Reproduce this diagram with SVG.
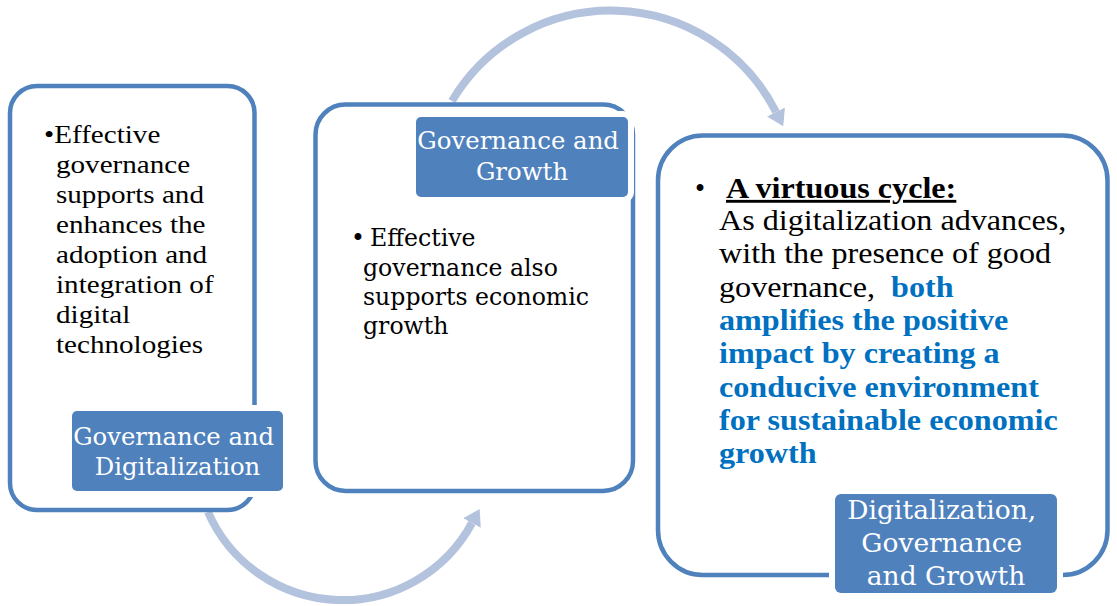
<svg xmlns="http://www.w3.org/2000/svg" width="1117" height="606" viewBox="0 0 1117 606">
  <style>
    .panel { fill: #ffffff; stroke: #4f81bd; stroke-width: 4.5; }
    .tag { fill: #4f81bd; stroke: #ffffff; stroke-width: 12; paint-order: stroke; }
    .tagtext { font-family: "DejaVu Serif", serif; fill: #ffffff; text-anchor: middle; }
    .body { font-family: "Liberation Serif", "Times New Roman", serif; fill: #000000; }
    .body2 { font-family: "DejaVu Serif", serif; fill: #000000; font-size: 23.6px; }
    .flow { fill: none; stroke: #b3c3de; stroke-width: 8; }
    .em { fill: #0070c0; font-weight: bold; }
  </style>
  <defs>
    <marker id="head" viewBox="0 0 16 20" refX="0" refY="10" markerWidth="16" markerHeight="20" markerUnits="userSpaceOnUse" orient="auto">
      <path d="M0,0 L16,10 L0,20 z" fill="#b3c3de"/>
    </marker>
  </defs>

  <!-- curved arrows linking the stages -->
  <g id="connectors">
    <path class="flow" d="M452,101 A185,185 0 0 1 776,112" marker-end="url(#head)"/>
    <path class="flow" d="M208,512 A147,147 0 0 0 472,523" marker-end="url(#head)"/>
  </g>

  <!-- stage 1 -->
  <g id="governance-digitalization">
    <rect class="panel" x="10" y="86" width="244.5" height="424" rx="27"/>
    <text class="body" font-size="26" transform="translate(44,0) scale(1.12,1)">
      <tspan x="0" y="143">•Effective</tspan>
      <tspan x="10.7" y="173">governance</tspan>
      <tspan x="10.7" y="203">supports and</tspan>
      <tspan x="10.7" y="233">enhances the</tspan>
      <tspan x="10.7" y="263">adoption and</tspan>
      <tspan x="10.7" y="293">integration of</tspan>
      <tspan x="10.7" y="323">digital</tspan>
      <tspan x="10.7" y="353">technologies</tspan>
    </text>
    <rect class="tag" x="72" y="411" width="211" height="80" rx="5"/>
    <text class="tagtext" font-size="24.3">
      <tspan x="177.5" y="445">Governance and</tspan>
      <tspan x="177.5" y="475">Digitalization</tspan>
    </text>
  </g>

  <!-- stage 2 -->
  <g id="governance-growth">
    <rect class="panel" x="315.5" y="104.5" width="317.5" height="386.5" rx="30"/>
    <rect class="tag" x="416" y="117" width="212" height="80" rx="5"/>
    <text class="tagtext" font-size="24.4">
      <tspan x="522" y="149">Governance and</tspan>
      <tspan x="522" y="180">Growth</tspan>
    </text>
    <text class="body2" x="351" y="246">•</text>
    <text class="body2">
      <tspan x="370" y="246">Effective</tspan>
      <tspan x="363" y="275.5">governance also</tspan>
      <tspan x="363" y="305">supports economic</tspan>
      <tspan x="363" y="334">growth</tspan>
    </text>
  </g>

  <!-- stage 3 -->
  <g id="virtuous-cycle">
    <rect class="panel" x="658" y="135.5" width="449.5" height="439.5" rx="45"/>
    <text class="body" font-size="28.7" x="695" y="198">•</text>
    <text class="body" font-size="28.7" transform="translate(719,0) scale(1.12,1)">
      <tspan x="6.25" y="198" font-weight="bold" text-decoration="underline">A virtuous cycle:</tspan>
      <tspan x="0" y="230">As digitalization advances,</tspan>
      <tspan x="0" y="263.5">with the presence of good</tspan>
      <tspan x="0" y="297">governance,</tspan><tspan x="153.6" y="297" class="em">both</tspan>
      <tspan x="0" y="330" class="em">amplifies the positive</tspan>
      <tspan x="0" y="363.5" class="em">impact by creating a</tspan>
      <tspan x="0" y="397" class="em">conducive environment</tspan>
      <tspan x="0" y="430" class="em">for sustainable economic</tspan>
      <tspan x="0" y="463.5" class="em">growth</tspan>
    </text>
    <rect class="tag" x="835" y="494" width="222" height="99" rx="6"/>
    <text class="tagtext" font-size="26.5">
      <tspan x="946" y="519">Digitalization,</tspan>
      <tspan x="946" y="552">Governance</tspan>
      <tspan x="946" y="585">and Growth</tspan>
    </text>
  </g>
</svg>
